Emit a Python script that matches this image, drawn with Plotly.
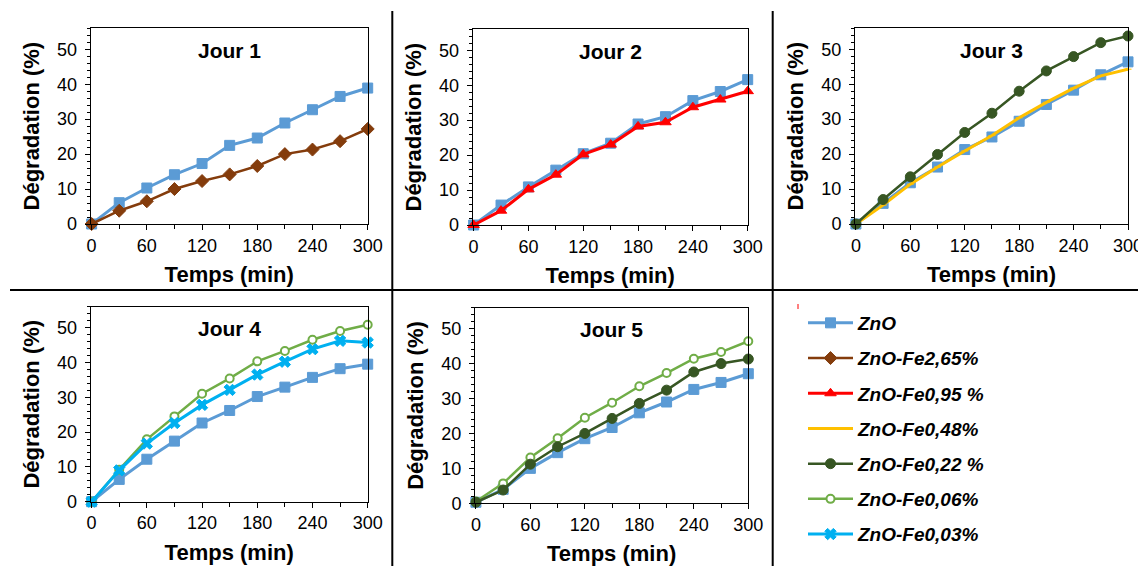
import plotly.graph_objects as go

# temps (min)
temps = [0, 30, 60, 90, 120, 150, 180, 210, 240, 270, 300]

# Jour 1
j1_zno = [0, 6.1, 10.3, 14.1, 17.3, 22.5, 24.6, 28.9, 32.7, 36.5, 38.9]
j1_fe265 = [0, 3.8, 6.5, 10.0, 12.3, 14.2, 16.6, 20.0, 21.3, 23.7, 27.2]

# Jour 2
j2_zno = [0, 5.7, 10.9, 15.7, 20.4, 23.4, 28.9, 31.0, 35.6, 38.2, 41.6]
j2_fe095 = [0, 4.1, 10.2, 14.4, 20.2, 23.0, 28.2, 29.4, 33.7, 35.9, 38.3]

# Jour 3
j3_zno = [0, 5.9, 11.8, 16.3, 21.3, 24.9, 29.4, 34.2, 38.3, 42.7, 46.4]
j3_fe048 = [0, 5.4, 11.4, 16.3, 20.9, 25.3, 30.4, 34.8, 38.9, 42.4, 44.3]
j3_fe022 = [0, 7.0, 13.5, 19.9, 26.2, 31.7, 38.0, 43.8, 47.9, 51.9, 53.8]

# Jour 4
j4_zno = [0, 6.4, 12.2, 17.4, 22.6, 26.2, 30.2, 32.9, 35.7, 38.2, 39.5]
j4_fe006 = [0, 9.2, 17.9, 24.5, 31.0, 35.4, 40.3, 43.3, 46.5, 49.0, 50.8]
j4_fe003 = [0, 9.0, 16.7, 22.6, 27.8, 32.1, 36.5, 40.2, 43.8, 46.2, 45.7]

# Jour 5
j5_zno = [0.3, 4.0, 10.0, 14.5, 18.5, 21.7, 25.9, 29.0, 32.6, 34.6, 37.1]
j5_fe006 = [0.5, 5.7, 13.1, 18.6, 24.5, 28.8, 33.5, 37.3, 41.4, 43.3, 46.4]
j5_fe022 = [0.3, 3.8, 11.2, 16.2, 20.0, 24.3, 28.6, 32.4, 37.6, 40.0, 41.3]

x_ticks = [0, 60, 120, 180, 240, 300]
y_ticks = [0, 10, 20, 30, 40, 50]

# the page body has an 8px margin, so the figure is a bit smaller than the window
OFF = 8
W, H = 1146 - OFF, 566 - OFF
FONT = "Arial, Liberation Sans, sans-serif"


def fx(px):
    return (px - OFF) / W


def fy(py):
    return 1 - (py - OFF) / H


styles = {
    "ZnO": dict(color="#5B9BD5", symbol="square", size=10, width=3, fill="#5B9BD5"),
    "ZnO-Fe2,65%": dict(color="#843C0C", symbol="diamond", size=10, width=2.5, fill="#843C0C"),
    "ZnO-Fe0,95 %": dict(color="#FF0000", symbol="triangle-up", size=10, width=3, fill="#FF0000"),
    "ZnO-Fe0,48%": dict(color="#FFC000", symbol="line-ew", size=5, width=3, fill="#FFC000"),
    "ZnO-Fe0,22 %": dict(color="#375623", symbol="circle", size=10, width=2.5, fill="#375623"),
    "ZnO-Fe0,06%": dict(color="#70AD47", symbol="circle", size=8, width=2.5, fill="white"),
    "ZnO-Fe0,03%": dict(color="#00B0F0", symbol="x", size=10, width=3, fill="#00B0F0"),
}

# pixel boxes of the plot areas: left, right, top, bottom
panels = [
    ("Jour 1", (90.7, 367.7, 28.3, 224), [("ZnO", j1_zno), ("ZnO-Fe2,65%", j1_fe265)]),
    ("Jour 2", (472.7, 747.7, 29.3, 225), [("ZnO", j2_zno), ("ZnO-Fe0,95 %", j2_fe095)]),
    ("Jour 3", (855, 1128, 28.3, 224), [("ZnO", j3_zno), ("ZnO-Fe0,48%", j3_fe048), ("ZnO-Fe0,22 %", j3_fe022)]),
    ("Jour 4", (90.7, 367.7, 306.7, 501.7), [("ZnO", j4_zno), ("ZnO-Fe0,06%", j4_fe006), ("ZnO-Fe0,03%", j4_fe003)]),
    ("Jour 5", (475, 748.3, 307.7, 503.3), [("ZnO", j5_zno), ("ZnO-Fe0,06%", j5_fe006), ("ZnO-Fe0,22 %", j5_fe022)]),
]

fig = go.Figure()
layout = {}
annotations = []
shown = set()

for i, (title, (l, r, t, b), series) in enumerate(panels):
    n = "" if i == 0 else str(i + 1)
    for name, vals in series:
        s = styles[name]
        fig.add_trace(go.Scatter(
            x=temps, y=vals, name=name, mode="lines+markers",
            xaxis="x" + n, yaxis="y" + n,
            legendgroup=name, showlegend=name not in shown,
            line=dict(color=s["color"], width=s["width"]),
            marker=dict(symbol=s["symbol"], size=s["size"], color=s["fill"],
                        line=dict(color=s["color"], width=2 if s["fill"] == "white" else 1)),
            cliponaxis=False,
        ))
        shown.add(name)

    layout["xaxis" + n] = dict(
        domain=[fx(l), fx(r)], anchor="y" + n, range=[-1, 300], automargin=False,
        tickvals=x_ticks, ticks="outside", ticklen=5, tickcolor="black",
        minor=dict(dtick=30, tick0=0, ticks="outside", ticklen=4, tickcolor="black"),
        showline=True, linecolor="black", mirror=True, linewidth=1,
        showgrid=False, zeroline=False,
        tickfont=dict(family=FONT, size=18, color="black"),
        title=dict(text="<b>Temps (min)</b>", font=dict(family=FONT, size=22, color="black"), standoff=12),
    )
    layout["yaxis" + n] = dict(
        domain=[fy(b), fy(t)], anchor="x" + n, range=[0, 56], automargin=False,
        tickvals=y_ticks, ticks="outside", ticklen=5, tickcolor="black",
        minor=dict(dtick=2, tick0=0, ticks="outside", ticklen=3, tickcolor="black"),
        showline=True, linecolor="black", mirror=True, linewidth=1,
        showgrid=False, zeroline=False, ticklabelstandoff=4,
        tickfont=dict(family=FONT, size=18, color="black"),
        title=dict(text="<b>Dégradation (%)</b>", font=dict(family=FONT, size=22, color="black"), standoff=11),
    )
    annotations.append(dict(
        text="<b>" + title + "</b>", xref="x" + n + " domain", yref="y" + n + " domain",
        x=0.5, y=0.889, xanchor="center", yanchor="middle", showarrow=False,
        font=dict(family=FONT, size=21, color="black"),
    ))

shapes = [
    dict(type="line", xref="paper", yref="paper", x0=fx(392.3), x1=fx(392.3), y0=fy(11), y1=fy(566),
         line=dict(color="black", width=2)),
    dict(type="line", xref="paper", yref="paper", x0=fx(772.7), x1=fx(772.7), y0=fy(11), y1=fy(566),
         line=dict(color="black", width=2)),
    dict(type="line", xref="paper", yref="paper", x0=fx(10), x1=fx(1146), y0=fy(290), y1=fy(290),
         line=dict(color="black", width=2)),
    # small red stray mark above the legend
    dict(type="line", xref="paper", yref="paper", x0=fx(798), x1=fx(798), y0=fy(304), y1=fy(309),
         line=dict(color="red", width=1)),
]

fig.update_layout(
    **layout,
    annotations=annotations,
    shapes=shapes,
    width=W, height=H,
    margin=dict(l=0, r=0, t=0, b=0, autoexpand=False),
    plot_bgcolor="white", paper_bgcolor="white",
    showlegend=True,
    legend=dict(
        x=fx(803), y=fy(304), xanchor="left", yanchor="top",
        traceorder="grouped", tracegroupgap=7.5, itemwidth=45,
        font=dict(family=FONT, size=19, color="black"),
        bgcolor="rgba(0,0,0,0)",
    ),
    font=dict(family=FONT, color="black"),
)

# legend labels in bold italic
for tr in fig.data:
    tr.name = "<b><i>" + tr.name + "</i></b>"

fig.write_html("out.html")
